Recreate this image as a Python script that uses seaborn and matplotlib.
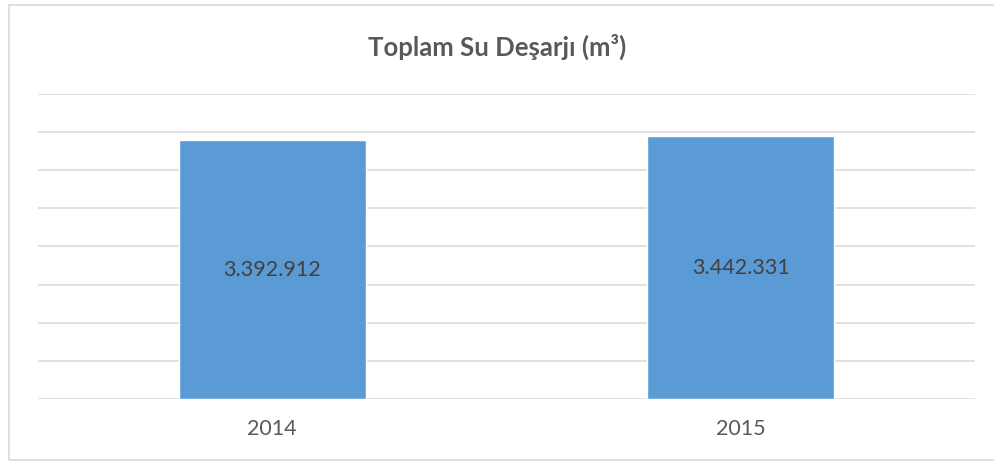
import pandas as pd
import matplotlib
matplotlib.use('Agg')
import matplotlib.pyplot as plt
import seaborn as sns
from matplotlib.patches import Rectangle

# Chart data
years = ['2014', '2015']
discharge = [3392912, 3442331]

df = pd.DataFrame({'year': years, 'discharge': discharge})

sns.set_style('white')
plt.rcParams['font.family'] = ['Lato', 'DejaVu Sans']

fig = plt.figure(figsize=(9.94, 4.61), dpi=100)
ax = fig.add_axes([0.0382, 0.1345, 0.9427, 0.6622])

sns.barplot(x='year', y='discharge', data=df, color='#5B9BD5', width=0.4,
            saturation=1, ax=ax, zorder=2)

# Light horizontal gridlines, no y labels
ax.set_ylim(0, 4000000)
ax.set_xlim(-0.5, 1.5)
ax.set_yticks(range(0, 4000001, 500000))
ax.yaxis.grid(True, color='#d9d9d9', linewidth=1.1)
ax.set_axisbelow(True)
ax.tick_params(axis='y', left=False, labelleft=False)
ax.tick_params(axis='x', bottom=False, labelsize=15.5, labelcolor='#595959', pad=11)
for s in ax.spines.values():
    s.set_visible(False)
ax.set_xlabel('')
ax.set_ylabel('')

# Values centred inside the bars, Turkish thousand separator
for i, v in enumerate(discharge):
    ax.text(i, v / 2, f'{v:,}'.replace(',', '.'), ha='center', va='center',
            fontsize=15.5, color='#404040')

fig.text(0.5, 0.898, 'Toplam Su Deşarjı (m³)', ha='center', va='center',
         fontsize=18.5, fontweight='bold', color='#595959')

# Chart area border
fig.patches.append(Rectangle((8.5 / 994, 1 / 461), 1.0, 455 / 461,
                             transform=fig.transFigure, fill=False,
                             edgecolor='#d9d9d9', linewidth=1.2))

fig.savefig('out.png', dpi=100)
